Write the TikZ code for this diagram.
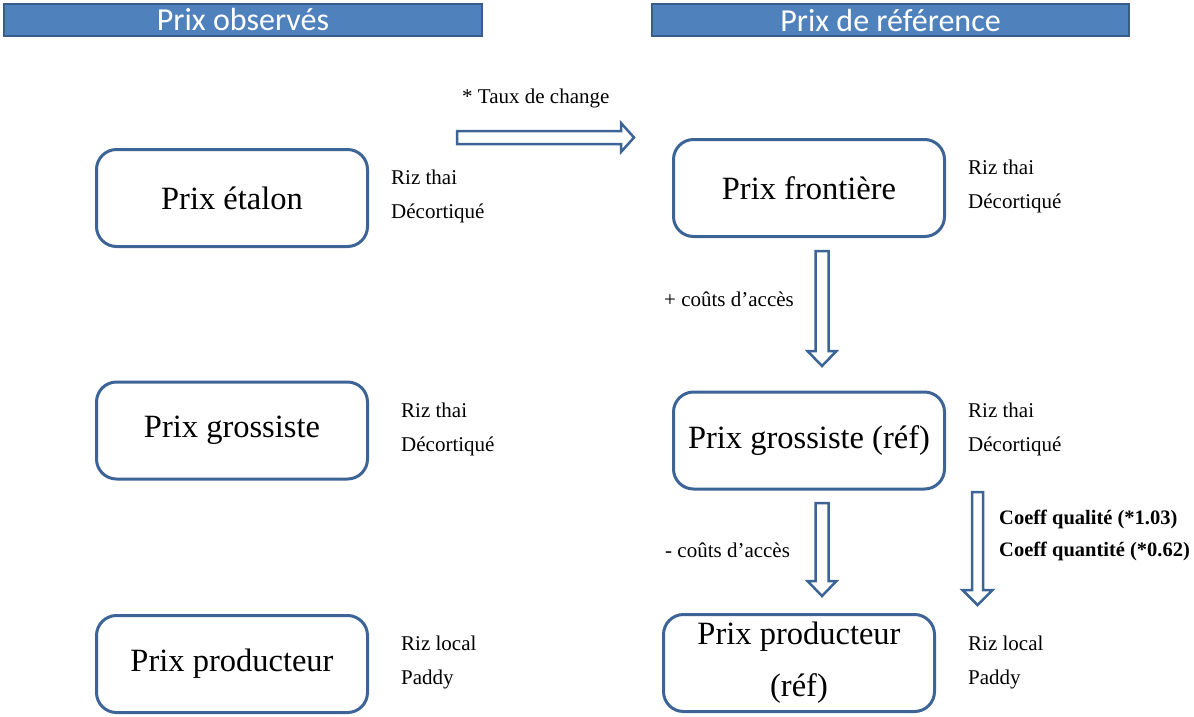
\documentclass[tikz,border=0pt]{standalone}
\usepackage{fontspec}
\setmainfont{Liberation Serif}
\newfontfamily\hdrfont{Carlito}
\definecolor{hdrfill}{RGB}{79,129,189}
\definecolor{hdrline}{RGB}{56,93,138}
\definecolor{bline}{RGB}{60,100,150}
\begin{document}
\begin{tikzpicture}[x=1pt,y=-1pt,
  hdr/.style={draw=hdrline, fill=hdrfill, line width=2pt, text=white,
    minimum height=32pt, inner sep=0pt, font=\hdrfont\fontsize{32}{32}\selectfont},
  pbox/.style={draw=bline, line width=3pt, rounded corners=20pt, fill=white,
    minimum width=271pt, minimum height=97pt, inner sep=0pt, align=center,
    font=\fontsize{32.5}{52}\selectfont},
  lbl/.style={anchor=west, inner sep=0pt, text height=14pt, text depth=5pt,
    font=\fontsize{21}{21}\selectfont},
  blbl/.style={lbl, font=\fontsize{20.5}{20.5}\selectfont\bfseries},
  blockarrow/.style={draw=bline, fill=white, line width=2.5pt, line join=miter}
]
\useasboundingbox (0,0) rectangle (1194,716);

% headers
\node[hdr, minimum width=478pt] (h1) at (243,20) {Prix observés};
\node[hdr, minimum width=477pt] (h2) at (890.5,20) {Prix de référence};

% boxes
\node[pbox] (etalon) at (232,198) {Prix étalon};
\node[pbox] (gross) at (232,430.5) {Prix grossiste};
\node[pbox] (prod) at (232,664) {Prix producteur};
\node[pbox] (front) at (809,188) {Prix frontière};
\node[pbox] (grossref) at (809,440.5) {Prix grossiste (réf)};
\node[pbox] (prodref) at (799,663) {Prix producteur\\(réf)};

% side labels
\node[lbl] (l1a) at (391,180) {Riz thai};
\node[lbl] (l1b) at (391,214) {Décortiqué};
\node[lbl] (l2a) at (401,413) {Riz thai};
\node[lbl] (l2b) at (401,447) {Décortiqué};
\node[lbl] (l3a) at (401,646) {Riz local};
\node[lbl] (l3b) at (401,680) {Paddy};
\node[lbl] (r1a) at (968,170) {Riz thai};
\node[lbl] (r1b) at (968,204) {Décortiqué};
\node[lbl] (r2a) at (968,413) {Riz thai};
\node[lbl] (r2b) at (968,447) {Décortiqué};
\node[lbl] (r3a) at (968,646) {Riz local};
\node[lbl] (r3b) at (968,680) {Paddy};

% arrow labels
\node[lbl] (taux) at (462,99) {* Taux de change};
\node[lbl] (cplus) at (664,302) {+ coûts d’accès};
\node[lbl] (cminus) at (665,553) {- coûts d’accès};
\node[blbl] (cq1) at (999,520) {Coeff qualité (*1.03)};
\node[blbl] (cq2) at (999,552) {Coeff quantité (*0.62)};

% arrow anchor points
\coordinate (ha) at (457,137.5);
\coordinate (va1) at (822,251);
\coordinate (va2) at (822,503);
\coordinate (va3) at (977.5,492);

% horizontal block arrow (etalon -> frontiere)
\draw[blockarrow] (ha) ++(0,-6.5) -- ++(164,0) -- ++(0,-8) -- ++(13,14.5)
  -- ++(-13,14.5) -- ++(0,-8) -- ++(-164,0) -- cycle;
% vertical block arrows
\draw[blockarrow] (va1) ++(-6.5,0) -- ++(13,0) -- ++(0,100) -- ++(8,0) -- ++(-14.5,15)
  -- ++(-14.5,-15) -- ++(8,0) -- cycle;
\draw[blockarrow] (va2) ++(-6.5,0) -- ++(13,0) -- ++(0,78) -- ++(8,0) -- ++(-14.5,15)
  -- ++(-14.5,-15) -- ++(8,0) -- cycle;
\draw[blockarrow] (va3) ++(-5.5,0) -- ++(11,0) -- ++(0,98) -- ++(9.5,0) -- ++(-15,15)
  -- ++(-15,-15) -- ++(9.5,0) -- cycle;
\end{tikzpicture}
\end{document}
